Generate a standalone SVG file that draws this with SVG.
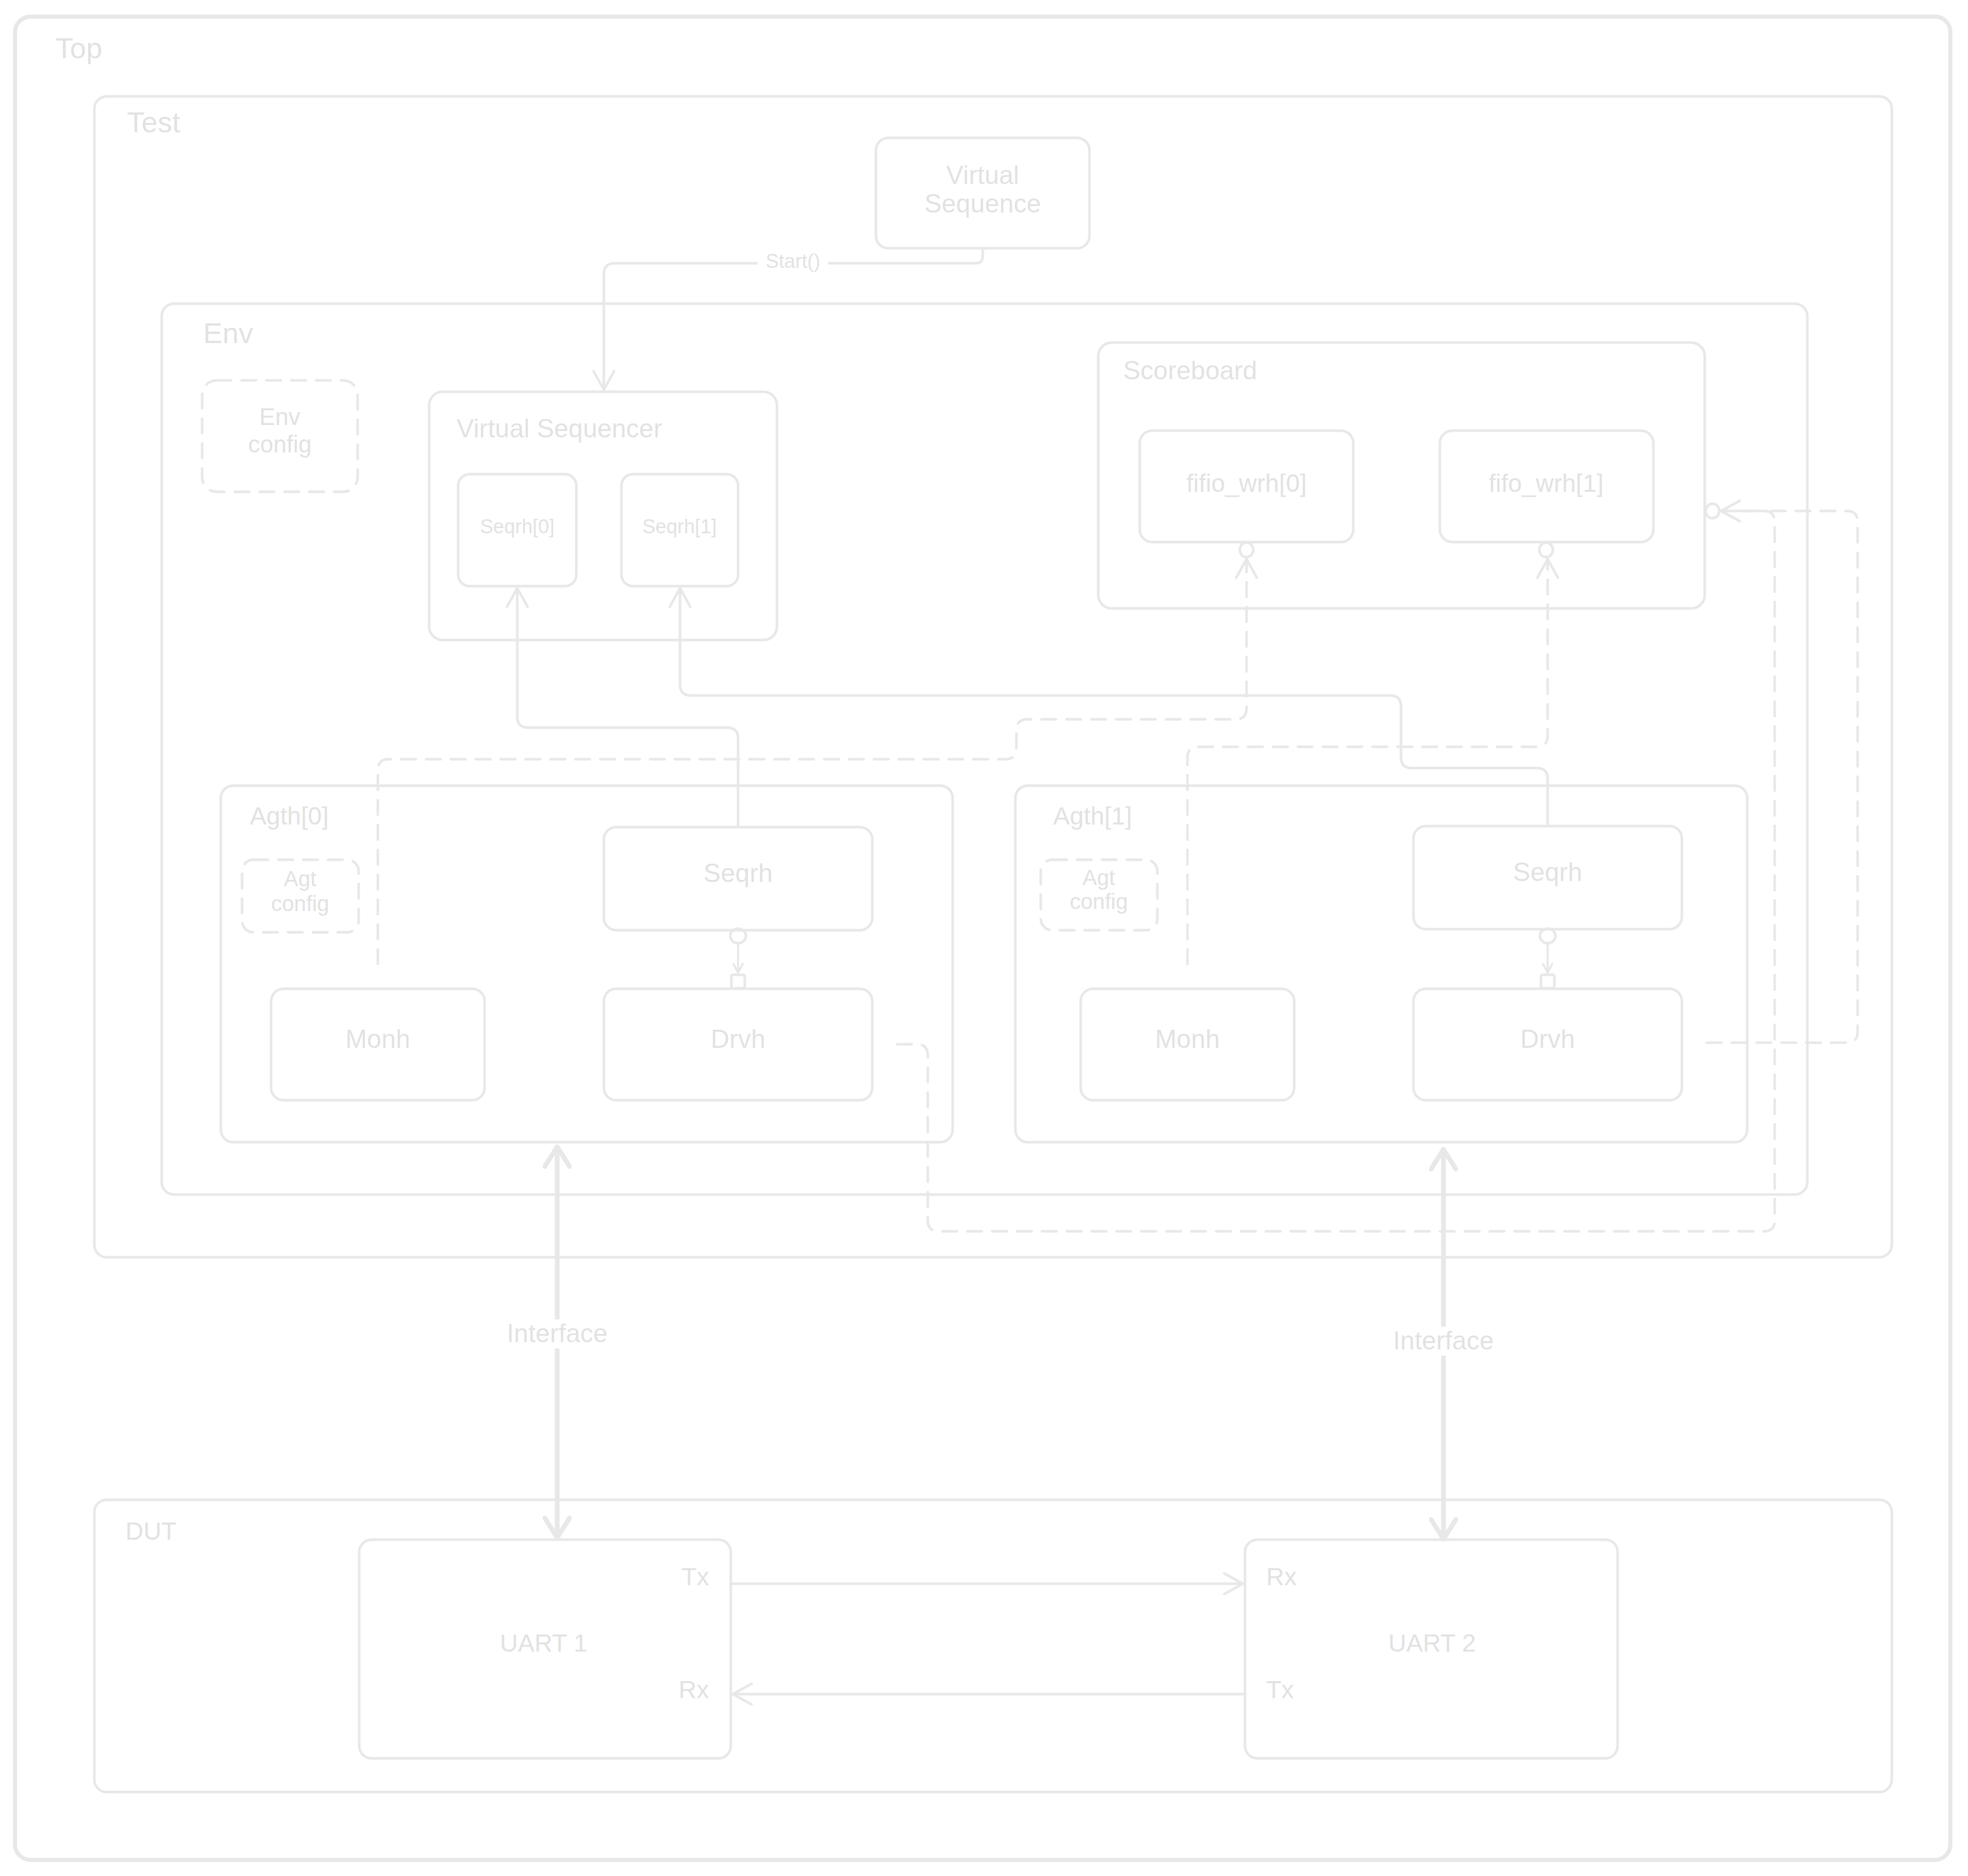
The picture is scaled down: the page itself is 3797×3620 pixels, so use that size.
<svg xmlns="http://www.w3.org/2000/svg" width="3797" height="3620" viewBox="0 0 3797 3620">
  <style>
    .box { fill: none; stroke: #e8e8e8; stroke-width: 5; }
    .dash { fill: none; stroke: #e8e8e8; stroke-width: 5; stroke-dasharray: 28 20; stroke-linecap: round; }
    .wire { fill: none; stroke: #e8e8e8; stroke-width: 5; stroke-linecap: round; stroke-linejoin: round; }
    .thick { fill: none; stroke: #e8e8e8; stroke-width: 9; stroke-linecap: round; }
    text { font-family: "Liberation Sans", Arial, sans-serif; fill: #e2e2e2; }
    .c { text-anchor: middle; }
    .t56 { font-size: 56px; }
    .t50 { font-size: 50px; }
    .t48 { font-size: 48px; }
    .t46 { font-size: 46px; }
    .t42 { font-size: 42px; }
    .t38 { font-size: 38px; }
  </style>
  <defs>
    <marker id="arr" markerUnits="userSpaceOnUse" viewBox="0 0 44 44" markerWidth="44" markerHeight="44" refX="40" refY="22" orient="auto">
      <path d="M4,2 L40,22 L4,42" fill="none" stroke="#e8e8e8" stroke-width="5" stroke-linecap="round" stroke-linejoin="round"/>
    </marker>
    <marker id="arrS" markerUnits="userSpaceOnUse" viewBox="0 0 24 24" markerWidth="24" markerHeight="24" refX="20" refY="12" orient="auto">
      <path d="M3,3 L20,12 L3,21" fill="none" stroke="#e8e8e8" stroke-width="4" stroke-linecap="round" stroke-linejoin="round"/>
    </marker>
    <marker id="arrI" markerUnits="userSpaceOnUse" viewBox="0 0 50 56" markerWidth="50" markerHeight="56" refX="44" refY="28" orient="auto-start-reverse">
      <path d="M6,4 L44,28 L6,52" fill="none" stroke="#e8e8e8" stroke-width="9" stroke-linecap="round" stroke-linejoin="round"/>
    </marker>
  </defs>

  <rect width="3797" height="3620" fill="#ffffff"/>

  <!-- containers -->
  <g id="top">
    <rect x="29" y="32" width="3734" height="3557" rx="30" class="box" style="stroke-width:8"/>
    <text x="107" y="112" class="t56">Top</text>
  </g>
  <g id="test">
    <rect x="182" y="186" width="3468" height="2240" rx="24" class="box"/>
    <text x="245" y="255" class="t56">Test</text>
  </g>
  <g id="env">
    <rect x="312" y="586" width="3175" height="1719" rx="24" class="box"/>
    <text x="392" y="662" class="t56">Env</text>
  </g>
  <g id="dut">
    <rect x="182" y="2894" width="3468" height="564" rx="24" class="box"/>
    <text x="242" y="2971" class="t48">DUT</text>
  </g>

  <!-- test level nodes -->
  <g id="virtual-sequence">
    <rect x="1690" y="266" width="412" height="213" rx="24" class="box"/>
    <text x="1896" y="355" class="c t50">Virtual</text>
    <text x="1896" y="410" class="c t50">Sequence</text>
  </g>

  <g id="env-config">
    <rect x="390" y="734" width="300" height="215" rx="28" class="dash"/>
    <text x="540" y="820" class="c t46">Env</text>
    <text x="540" y="873" class="c t46">config</text>
  </g>

  <g id="virtual-sequencer">
    <rect x="828" y="756" width="671" height="479" rx="26" class="box"/>
    <text x="881" y="844" class="t50">Virtual Sequencer</text>
  </g>
  <g id="seqrh0">
    <rect x="884" y="915" width="228" height="216" rx="22" class="box"/>
    <text x="998" y="1029" class="c t38">Seqrh[0]</text>
  </g>
  <g id="seqrh1">
    <rect x="1199" y="915" width="225" height="216" rx="22" class="box"/>
    <text x="1311" y="1029" class="c t38">Seqrh[1]</text>
  </g>

  <g id="scoreboard">
    <rect x="2119" y="661" width="1170" height="513" rx="26" class="box"/>
    <text x="2167" y="732" class="t50">Scoreboard</text>
  </g>
  <g id="fifo0">
    <rect x="2199" y="831" width="412" height="215" rx="24" class="box"/>
    <text x="2405" y="949" class="c t48">fifio_wrh[0]</text>
    <ellipse cx="2405" cy="1061" rx="13" ry="14" class="box"/>
  </g>
  <g id="fifo1">
    <rect x="2778" y="831" width="412" height="215" rx="24" class="box"/>
    <text x="2983" y="949" class="c t48">fifo_wrh[1]</text>
    <ellipse cx="2983" cy="1061" rx="13" ry="14" class="box"/>
  </g>
  <ellipse id="scoreboard-port" cx="3304" cy="986" rx="13" ry="14" class="box"/>

  <!-- agent 0 -->
  <g id="agent0">
    <rect x="426" y="1516" width="1412" height="688" rx="24" class="box"/>
    <text x="482" y="1591" class="t48">Agth[0]</text>
  </g>
  <g id="agt-config0">
    <rect x="467" y="1659" width="225" height="140" rx="22" class="dash"/>
    <text x="579" y="1710" class="c t42">Agt</text>
    <text x="579" y="1758" class="c t42">config</text>
  </g>
  <g id="agent0-seqrh">
    <rect x="1165" y="1596" width="518" height="199" rx="24" class="box"/>
    <text x="1424" y="1702" class="c t50">Seqrh</text>
    <ellipse cx="1424" cy="1806" rx="15" ry="14" class="box"/>
  </g>
  <g id="agent0-monh">
    <rect x="523" y="1908" width="412" height="215" rx="24" class="box"/>
    <text x="729" y="2022" class="c t50">Monh</text>
  </g>
  <g id="agent0-drvh">
    <rect x="1165" y="1908" width="518" height="215" rx="24" class="box"/>
    <text x="1424" y="2022" class="c t50">Drvh</text>
    <rect x="1411" y="1881" width="26" height="26" rx="3" class="box"/>
  </g>

  <!-- agent 1 -->
  <g id="agent1">
    <rect x="1959" y="1516" width="1412" height="688" rx="24" class="box"/>
    <text x="2032" y="1591" class="t48">Agth[1]</text>
  </g>
  <g id="agt-config1">
    <rect x="2008" y="1659" width="225" height="136" rx="22" class="dash"/>
    <text x="2120" y="1708" class="c t42">Agt</text>
    <text x="2120" y="1754" class="c t42">config</text>
  </g>
  <g id="agent1-seqrh">
    <rect x="2727" y="1594" width="518" height="199" rx="24" class="box"/>
    <text x="2986" y="1700" class="c t50">Seqrh</text>
    <ellipse cx="2986" cy="1806" rx="15" ry="14" class="box"/>
  </g>
  <g id="agent1-monh">
    <rect x="2085" y="1908" width="412" height="215" rx="24" class="box"/>
    <text x="2291" y="2022" class="c t50">Monh</text>
  </g>
  <g id="agent1-drvh">
    <rect x="2727" y="1908" width="518" height="215" rx="24" class="box"/>
    <text x="2986" y="2022" class="c t50">Drvh</text>
    <rect x="2973" y="1881" width="26" height="26" rx="3" class="box"/>
  </g>

  <!-- DUT -->
  <g id="uart1">
    <rect x="693" y="2971" width="717" height="422" rx="24" class="box"/>
    <text x="1049" y="3187" class="c t48">UART 1</text>
    <text x="1368" y="3059" class="t48" text-anchor="end">Tx</text>
    <text x="1368" y="3277" class="t48" text-anchor="end">Rx</text>
  </g>
  <g id="uart2">
    <rect x="2402" y="2971" width="719" height="422" rx="24" class="box"/>
    <text x="2763" y="3187" class="c t48">UART 2</text>
    <text x="2443" y="3059" class="t48">Rx</text>
    <text x="2443" y="3277" class="t48">Tx</text>
  </g>

  <!-- connectors -->
  <g id="connectors">
    <!-- Start() -->
    <path class="wire" d="M1896,480 L1896,494 Q1896,508 1882,508 L1186,508 Q1165,508 1165,529 L1165,752" marker-end="url(#arr)"/>
    <rect x="1462" y="484" width="136" height="44" fill="#ffffff"/>
    <text x="1530" y="517" class="c t38">Start()</text>

    <!-- sequencer handles -->
    <path class="wire" d="M1424,1596 L1424,1425 Q1424,1404 1403,1404 L1019,1404 Q998,1404 998,1383 L998,1135" marker-end="url(#arr)"/>
    <path class="wire" d="M2986,1594 L2986,1503 Q2986,1482 2965,1482 L2724,1482 Q2703,1482 2703,1461 L2703,1363 Q2703,1342 2682,1342 L1333,1342 Q1312,1342 1312,1321 L1312,1135" marker-end="url(#arr)"/>

    <!-- sequencer to driver -->
    <path class="wire" d="M1424,1821 L1424,1877" marker-end="url(#arrS)" style="stroke-width:4"/>
    <path class="wire" d="M2986,1821 L2986,1877" marker-end="url(#arrS)" style="stroke-width:4"/>

    <!-- monitors to scoreboard fifos -->
    <path class="dash" d="M729,1860 L729,1486 Q729,1465 750,1465 L1940,1465 Q1961,1465 1961,1444 L1961,1409 Q1961,1388 1982,1388 L2384,1388 Q2405,1388 2405,1367 L2405,1079" marker-end="url(#arr)"/>
    <path class="dash" d="M2291,1860 L2291,1462 Q2291,1441 2312,1441 L2965,1441 Q2986,1441 2986,1420 L2986,1079" marker-end="url(#arr)"/>

    <!-- drivers to scoreboard -->
    <path class="dash" d="M1731,2015 L1769,2015 Q1790,2015 1790,2036 L1790,2355 Q1790,2376 1811,2376 L3403,2376 Q3424,2376 3424,2355 L3424,1007 Q3424,986 3403,986 L3321,986" marker-end="url(#arr)"/>
    <path class="dash" d="M3293,2012 L3563,2012 Q3584,2012 3584,1991 L3584,1007 Q3584,986 3563,986 L3321,986"/>

    <!-- interfaces -->
    <path class="thick" d="M1075,2213 L1075,2967" marker-start="url(#arrI)" marker-end="url(#arrI)"/>
    <rect x="970" y="2546" width="210" height="56" fill="#ffffff"/>
    <text x="1075" y="2590" class="c t50">Interface</text>
    <path class="thick" d="M2785,2218 L2785,2970" marker-start="url(#arrI)" marker-end="url(#arrI)"/>
    <rect x="2680" y="2560" width="210" height="56" fill="#ffffff"/>
    <text x="2785" y="2604" class="c t50">Interface</text>

    <!-- UART links -->
    <path class="wire" d="M1410,3056 L2398,3056" marker-end="url(#arr)"/>
    <path class="wire" d="M2402,3269 L1414,3269" marker-end="url(#arr)"/>
  </g>
</svg>
